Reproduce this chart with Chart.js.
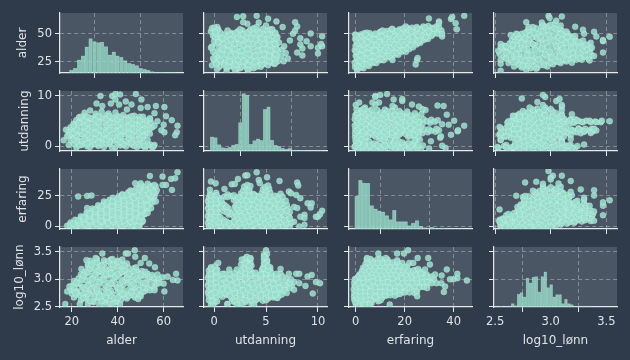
<!DOCTYPE html>
<html lang="no">
<head>
<meta charset="UTF-8">
<title>Parplott lønn</title>
<script src="https://cdn.jsdelivr.net/npm/chart.js"></script>
<style>
  html, body { margin: 0; padding: 0; background: #2f3b4b; overflow: hidden; }
  #wrap { position: relative; width: 630px; height: 360px; }
  canvas { position: absolute; }
</style>
</head>
<body>
<div id="wrap"></div>
<script>
// histogram values (bin centre / bar height)
const alderBins = [19.8,21.5,23.2,24.9,26.5,28.2,29.9,31.6,33.2,34.9,36.6,38.3,39.9,41.6,43.3,45.0,46.6,48.3,50.0,51.7,53.3,55.0,56.7,58.4,60.0,61.7,63.4,65.0];
const alderHist = [9,14,39,51,78,103,94,91,92,79,54,63,51,47,37,29,26,22,14,11,8,4,3,2,2,1,1,1];
const utdanningBins = [-0.2,0.14,0.48,0.82,1.16,1.5,1.84,2.18,2.52,2.86,3.2,3.54,3.88,4.22,4.56,4.9,5.24,5.58,5.92,6.26,6.6,6.94,7.28,7.62,7.96,8.3,8.64,8.98,9.32,9.66,10.0,10.34];
const utdanningHist = [42,40,19,10,8,11,18,21,85,171,166,20,31,36,32,124,132,32,17,14,8,5,8,3,2,2,2,1,1,1,1,1];
const erfaringBins = [0.37,1.91,3.45,4.99,6.53,8.07,9.61,11.15,12.69,14.23,15.77,17.31,18.85,20.39,21.93,23.47,25.01,26.55,28.09,29.63,31.17,32.71,34.25,35.79,37.33,38.87,40.41,41.95,43.49];
const erfaringHist = [98,145,137,136,70,60,54,51,40,28,56,22,22,22,10,18,25,8,4,3,5,2,2,2,1,1,1,1,1];
const lonnBins = [2.552,2.579,2.605,2.632,2.659,2.685,2.712,2.738,2.765,2.791,2.818,2.845,2.871,2.898,2.924,2.951,2.977,3.004,3.031,3.057,3.084,3.11,3.137,3.164,3.19,3.217,3.243,3.27,3.296,3.323,3.35];
const lonnHist = [2,0,1,1,10,4,38,43,30,86,72,89,91,45,91,105,58,67,30,37,37,10,23,10,7,3,2,1,1,1,1];

// scatter values, [x, y]. Each pair is used in both mirrored panels.
const alderUtdanning = [
  [22,-0.2],[24.4,0.3],[26.8,0],[29.2,0.4],[31.6,0.1],[34,-0.1],[36.4,0.4],[38.8,-0.2],[41.2,0.2],[43.6,0],[46,0.35],[48.4,-0.1],
  [20.8,0.5],[23.2,0.95],[25.6,0.7],[28,1.05],[30.4,0.45],[32.8,0.85],[35.2,0.6],[37.6,1],[40,0.75],[42.4,0.5],[44.8,0.9],[47.2,0.65],[49.6,1.05],
  [19.5,1.2],[22,1.55],[24.4,1.1],[26.8,1.65],[29.2,1.35],[31.6,1.15],[34,1.7],[36.4,1.45],[38.8,1.25],[41.2,1.6],[43.6,1.1],[46,1.5],[48.4,1.3],[50.8,1.65],
  [18.5,2.2],[20.8,1.8],[23.2,2.3],[25.6,2],[28,1.85],[30.4,2.25],[32.8,1.95],[35.2,2.3],[37.6,1.8],[40,2.1],[42.4,2.35],[44.8,1.9],[47.2,2.15],[49.6,1.85],[52,2.25],
  [19.5,2.5],[22,2.85],[24.4,2.45],[26.8,2.95],[29.2,2.6],[31.6,2.8],[34,2.5],[36.4,3],[38.8,2.7],[41.2,2.45],[43.6,2.9],[46,2.55],[48.4,2.95],[50.8,2.65],[53,2.75],
  [18.5,3.2],[20.8,3.6],[23.2,3.1],[25.6,3.45],[28,3.25],[30.4,3.65],[32.8,3.15],[35.2,3.5],[37.6,3.3],[40,3.6],[42.4,3.1],[44.8,3.4],[47.2,3.2],[49.6,3.55],[52,3.35],
  [19.5,3.8],[22,4.2],[24.4,3.9],[26.8,4.25],[29.2,3.75],[31.6,4.1],[34,3.85],[36.4,4.3],[38.8,4],[41.2,3.75],[43.6,4.2],[46,3.95],[48.4,4.3],[50.8,3.8],[53.5,4.1],
  [20.8,4.5],[23.2,4.85],[25.6,4.4],[28,4.75],[30.4,4.55],[32.8,4.9],[35.2,4.45],[37.6,4.7],[40,4.95],[42.4,4.5],[44.8,4.8],[47.2,4.4],[49.6,4.85],[52,4.6],
  [22,5.2],[24.4,5.55],[26.8,5.05],[29.2,5.4],[31.6,5.15],[34,5.6],[36.4,5.1],[38.8,5.45],[41.2,5.25],[43.6,5.6],[46,5.05],[48.4,5.35],[50.8,5.5],[53,5.15],
  [23.2,5.8],[25.6,6.15],[28,5.7],[30.4,6.1],[32.8,5.85],[35.2,6.2],[37.6,5.75],[40,6],[42.4,6.25],[44.8,5.8],[47.2,6.1],[49.6,5.9],
  [25.6,6.7],[28,7.1],[30.4,6.5],[33,6.9],[36,6.55],[39,6.75],
  [23.2,0.2],[28,-0.1],[32.8,0.5],[37.6,-0.3],[42.4,0.4],[47.2,0.1],[52,-0.3],[54,0.4],[55,-0.2],[56,0.3],[50,0.2],
  [22,1],[26.8,0.6],[31.6,0.7],[36.4,0.9],[41.2,0.9],[46,0.8],[51,0.6],
  [20.8,1.4],[25.6,1.5],[30.4,1.6],[35.2,1.3],[40,1.4],[44.8,1.6],[49.6,1.5],[53,1.3],
  [22,2.1],[26.8,2.3],[31.6,2.1],[36.4,2],[41.2,2],[46,2.3],[50.8,2.1],
  [20.8,2.7],[25.6,2.8],[30.4,2.55],[35.2,2.7],[40,2.85],[44.8,2.6],[49.6,2.8],[54,2.5],
  [22,3.3],[26.8,3.5],[31.6,3.4],[36.4,3.2],[41.2,3.3],[46,3.6],[50.8,3.2],[54,3.5],
  [20.8,4.1],[25.6,4],[30.4,3.9],[35.2,4.2],[40,4.2],[44.8,4],[49.6,4.2],[55,3.8],
  [23,4.6],[26.8,4.6],[31.6,4.8],[36.4,4.7],[41.2,4.8],[46,4.6],[50.8,4.4],[54.5,4.7],
  [25.6,5.3],[30.4,5.3],[35.2,5.4],[40,5.4],[44.8,5.3],[49.6,5.2],[54,5.4],
  [26.8,5.9],[31.6,5.95],[36.4,6],[41.2,5.85],[46,6],[51,5.9],[24,5.9],
  [32.5,10],[37.6,10],[39,10.4],[41,10.3],[47.9,10.4],[50.3,9.3],[39,9.3],[30.8,8.5],[33.3,8],[37,8.5],[40.6,8.3],[43.5,8.9],[44,7.3],[46,8.3],[50,7.6],[53,7.8],[56.6,8],[60.3,7.8],[56,6.6],[54,5.6],[57.3,5],[61,6],[63.5,5.2],[60,4.3],[66,4.1],[56,4.1],[59,3.2],[60.3,2.8],[65.7,2.8],[65,2.2],[55.6,0],[53,0.3],[51.5,0.1],[17.5,3.3],[16.5,1.2],[18.7,0.3],[18,2]
];
const alderErfaring = [
  [18,0.5],[20.5,-0.3],[23,1],[25.5,0.2],[28,1.4],[30.5,0],[33,0.8],[35.5,-0.4],[38,1.2],[40.5,0.4],[43,1.5],[45.5,-0.2],[48,0.7],
  [19.5,3.2],[22,2.2],[24.5,3.9],[27,2.6],[29.5,4.1],[32,3],[34.5,2],[37,3.6],[39.5,2.4],[42,4.2],[44.5,2.9],[47,3.4],[49.5,2.1],
  [21.5,5.4],[24,6.9],[26.5,5.2],[29,6.3],[31.5,7.1],[34,5.6],[36.5,6.6],[39,5],[41.5,7],[44,6],[46.5,5.3],[49,6.8],[50.5,5.7],
  [24,8.4],[26.5,9.9],[29,8.1],[31.5,9.3],[34,10],[36.5,8.6],[39,9.6],[41.5,8],[44,10.1],[46.5,9],[49,8.3],[51.5,9.8],
  [26.5,11.4],[29,12.9],[31.5,11.2],[34,12.4],[36.5,13],[39,11.6],[41.5,12.6],[44,11],[46.5,13.1],[49,12],[51,11.3],[52.5,12.8],
  [29,14.6],[31.5,15.9],[34,14.2],[36.5,15.4],[39,16],[41.5,14.5],[44,15.6],[46.5,14.1],[49,16.1],[51.5,15],[53.5,14.4],
  [31.5,17.4],[34,18.9],[36.5,17.2],[39,18.4],[41.5,19],[44,17.6],[46.5,18.6],[49,17],[51.5,19.1],[54,18],
  [34,20.5],[36.5,21.9],[39,20.2],[41.5,21.4],[44,22],[46.5,20.6],[49,21.6],[51.5,20.1],[54,22.1],[55.5,21],
  [38,23.4],[40.5,24.8],[43,23.2],[45.5,24.4],[48,25],[50.5,23.6],[53,24.6],[55.5,23],[56,24.9],
  [42,26.4],[44.5,27.8],[47,26.2],[49.5,27.4],[52,28],[54.5,26.6],[56.5,27.6],
  [45.5,29.5],[48,30.9],[50.5,29.2],[53,30.4],[55.5,31],[57,29.6],
  [51,32.6],[54,33.4],[56.5,32.9],
  [19.2,1.2],[21.7,0.6],[24.2,-0.4],[26.8,1],[29.2,0.4],[31.8,1.5],[34.2,0.2],[36.8,1.4],[39.2,-0.1],[41.8,0.9],[44.2,0.2],[46.8,1.2],[49.5,-0.2],
  [20.8,2.3],[23.2,3],[25.8,2],[28.2,3.4],[30.8,2.2],[33.2,3.8],[35.8,2.8],[38.2,4],[40.8,3.2],[43.2,2.3],[45.8,3.9],[48.2,2.7],[50.5,3.4],
  [22.8,4.8],[25.2,6],[27.8,4.7],[30.2,5.8],[32.8,4.9],[35.2,7],[37.8,5.4],[40.2,6.2],[42.8,4.8],[45.2,6.6],[47.8,5],[51,4.5],
  [25.2,7.6],[27.8,9],[30.2,7.7],[32.8,8.6],[35.2,7.9],[37.8,10.2],[40.2,8.8],[42.8,9.5],[45.2,7.8],[47.8,9.6],[50.2,8],[52,10.4],
  [27.8,10.6],[30.2,12.2],[32.8,10.9],[35.2,11.7],[37.8,12.2],[40.2,10.7],[42.8,12],[45.2,12],[47.8,10.8],[50.2,12.5],[53,11],
  [30.2,13.8],[32.8,15],[35.2,13.6],[37.8,14.8],[40.2,15.6],[42.8,14],[45.2,15],[47.8,15.4],[50.2,13.9],[52.8,15.7],[54.5,14.9],
  [33,16.8],[35.2,18.2],[37.8,16.8],[40.2,17.8],[42.8,18.6],[45.2,16.8],[47.8,18],[50.2,18.5],[52.8,17],
  [35.5,19.6],[37.8,20.8],[40.2,19.7],[42.8,21],[45.2,21.6],[47.8,19.8],[50.2,21],[52.8,21.8],[55,19.5],
  [40,22.5],[42,25.5],[44.5,23],[47,23.4],[49.5,25],[52,22.6],[54.5,25.4],
  [44,25.8],[46,28.4],[48.5,25.6],[51,28.6],[53.5,27],[55.5,28.3],
  [47,28.7],[49.5,31.5],[52,29.8],[54.5,32],[50,33.6],[53,35],
  [22.8,24.5],[26.7,25],[28.6,25.3],[47.6,35.3],[50,35.3],[54,41.3],[55.9,34],[59.5,40.8],[61,34],[63.2,38.9],[65,39.4],[66,44.3],[63.6,29.9],[59.5,34],[56.6,20.4],[49.3,4],[48.6,0],[26.7,15]
];
const alderLonn = [
  [27,2.55],[29.5,2.58],[32,2.54],[34.5,2.59],[37,2.56],[39.5,2.58],[41,2.55],
  [24,2.62],[26.5,2.64],[29,2.6],[31.5,2.65],[34,2.61],[36.5,2.64],[39,2.6],[41.5,2.63],[44,2.65],
  [21,2.67],[23.5,2.71],[26,2.68],[28.5,2.72],[31,2.67],[33.5,2.7],[36,2.72],[38.5,2.66],[41,2.7],[43.5,2.68],[46,2.72],[47.5,2.67],
  [20,2.74],[22.5,2.77],[25,2.73],[27.5,2.78],[30,2.75],[32.5,2.72],[35,2.78],[37.5,2.74],[40,2.77],[42.5,2.73],[45,2.76],[47.5,2.78],[50,2.74],
  [19.5,2.82],[22,2.79],[24.5,2.84],[27,2.81],[29.5,2.85],[32,2.8],[34.5,2.83],[37,2.79],[39.5,2.85],[42,2.82],[44.5,2.8],[47,2.84],[49.5,2.81],[52,2.79],[53,2.84],
  [20,2.88],[22.5,2.91],[25,2.86],[27.5,2.9],[30,2.87],[32.5,2.92],[35,2.88],[37.5,2.91],[40,2.86],[42.5,2.9],[45,2.92],[47.5,2.87],[50,2.89],[52.5,2.91],[55,2.87],
  [21,2.97],[23.5,2.94],[26,2.98],[28.5,2.93],[31,2.96],[33.5,2.99],[36,2.94],[38.5,2.97],[41,2.93],[43.5,2.98],[46,2.95],[48.5,2.99],[51,2.94],[53.5,2.97],[56,2.95],[57,2.98],
  [23,3.02],[25.5,3.05],[28,3],[30.5,3.04],[33,3.01],[35.5,3.06],[38,3.02],[40.5,3.05],[43,3],[45.5,3.04],[48,3.02],[50.5,3.06],[53,3.01],[55.5,3.03],
  [24,3.09],[26.5,3.11],[29,3.07],[31.5,3.12],[34,3.08],[36.5,3.1],[39,3.07],[41.5,3.12],[44,3.09],[46.5,3.07],[49,3.11],[51.5,3.08],[53,3.1],
  [25.5,3.14],[28,3.18],[30.5,3.15],[33,3.13],[35.5,3.17],[38,3.14],[40.5,3.18],[43,3.15],[45.5,3.13],[48,3.17],[50.5,3.15],
  [27,3.23],[29.5,3.2],[32,3.24],[34.5,3.21],[37,3.19],[39.5,3.24],[42,3.2],[44.5,3.22],[47,3.2],
  [27,3.28],[29.5,3.3],[32,3.27],[34.5,3.31],[37,3.28],[39.5,3.3],[42,3.27],[44,3.29],
  [28,3.34],[31,3.37],[34,3.35],[37,3.36],[40,3.34],[42,3.36],
  [28,2.6],[33,2.6],[38,2.55],[25,2.66],[30,2.69],[35,2.66],[40,2.66],[45,2.7],
  [22,2.72],[27,2.74],[32,2.69],[37,2.7],[42,2.74],[47,2.71],[49.5,2.7],
  [21,2.79],[26,2.77],[31,2.79],[36,2.76],[41,2.8],[46,2.77],[51,2.77],[54,2.8],
  [21,2.85],[26,2.83],[31,2.83],[36,2.86],[41,2.84],[46,2.88],[51,2.85],[56,2.84],
  [22,2.94],[27,2.89],[32,2.95],[37,2.92],[42,2.96],[47,2.91],[52,2.93],[57,2.92],
  [24.5,3],[29,3.01],[34,2.99],[39,3.05],[44,3.03],[49,2.98],[54,3.05],[58,3],
  [25,3.07],[30,3.08],[35,3.1],[40,3.09],[45,3.1],[50,3.09],[55,3.08],
  [27,3.14],[32,3.16],[37,3.11],[42,3.14],[47,3.15],[52,3.14],
  [28,3.2],[33,3.2],[38,3.22],[43,3.18],[48,3.22],
  [28.5,3.26],[33,3.25],[38,3.26],[43,3.25],[31,3.31],[36,3.33],[40.5,3.32],
  [47.4,3.53],[33.3,3.47],[43.5,3.47],[44.5,3.47],[47.6,3.41],[51.8,3.39],[50,3.3],[53.7,3.29],[56.2,3.22],[37.7,3.37],[30.4,3.39],[26.4,3.35],[24.2,3.19],[17.2,2.55],[23.5,2.55],[21.6,2.75],[18,2.78],[19,2.87],[57.3,3.09],[59.5,3.04],[61.7,3.05],[65.4,3.1],[66,2.98],[64,2.99],[60.3,2.78],[56,2.8],[58,2.93],[60,2.92],[50,2.69],[48.9,2.64],[34.7,2.53]
];
const utdanningErfaring = [
  [-0.5,0.5],[-0.1,-0.5],[0.4,1.1],[0.9,0.1],[1.4,1.4],[1.9,-0.3],[2.4,0.7],[2.9,1.3],[3.4,-0.2],[3.9,0.9],[4.4,0.3],[4.9,1.4],[5.4,-0.4],[5.9,0.8],[6.4,0.2],[6.9,1.2],
  [-0.6,3.1],[-0.2,2.2],[0.2,3.8],[0.7,2.6],[1.2,4],[1.7,3],[2.2,2.1],[2.7,3.6],[3.2,2.5],[3.7,4.1],[4.2,2.9],[4.7,3.4],[5.2,2.1],[5.7,3.9],[6.2,2.7],[6.7,3.3],[7.2,2.3],[7.7,3.8],
  [-0.5,6.1],[-0.1,5.2],[0.4,6.8],[0.9,5.5],[2,5.1],[2.5,6.6],[3,5.6],[3.5,7],[4,5.3],[4.5,6.3],[5,5.9],[5.5,7.1],[6,5.2],[6.5,6.6],[7,5.7],
  [-0.6,8.3],[-0.1,9.8],[0.35,8.6],[1.4,9.6],[1.9,8.1],[2.4,9.3],[2.9,10],[3.4,8.4],[3.9,9.4],[4.4,8.2],[4.9,10.1],[5.4,9],[5.9,8.5],[6.4,9.7],[7.2,8.8],
  [-0.5,11.5],[0,12.8],[0.45,11.2],[1,12.3],[1.5,11.8],[2.2,13],[2.7,11.4],[3.2,12.4],[3.7,11],[4.2,12.9],[4.7,11.7],[5.2,12.2],[5.7,13.1],[6.2,11.3],[6.7,12.6],[7.3,11.9],
  [-0.6,14.8],[-0.1,15.9],[0.4,14.2],[0.9,15.4],[1.4,14.6],[2,16],[2.5,14.4],[3,15.6],[3.5,14.1],[4,15],[4.5,16.1],[5,14.7],[5.5,15.3],[6,14.3],[6.5,15.8],[7.1,14.9],
  [-0.5,18],[0,17.2],[0.5,18.8],[1,17.6],[2.1,17.1],[2.6,18.4],[3.1,19],[3.6,17.5],[4.1,18.6],[4.6,17.2],[5.1,19.1],[5.6,18.1],[6.1,17.4],[6.6,18.7],
  [-0.6,20.8],[-0.1,21.8],[0.4,20.3],[1.9,21.4],[2.4,20.5],[2.9,21.9],[3.4,20.2],[3.9,21.2],[4.4,22],[4.9,20.6],[5.4,21.6],[5.9,20.1],[6.4,21.1],
  [-0.5,23.5],[0,24.8],[0.5,23.1],[1,24.4],[1.6,25],[2.1,23.4],[2.6,24.6],[3.1,23],[3.6,24.2],[4.1,25.1],[4.6,23.6],[5.1,24.7],[5.6,23.3],[6.1,24.5],
  [-0.4,26.6],[0.2,27.5],[1.3,26.2],[2.6,27.2],[3,26],[3.4,27.8],[3.8,26.5],[4.6,27.4],[5,26.1],[5.4,27.7],[6.4,26.8],
  [2.8,29.4],[3.1,30.8],[3.4,29.8],[4.7,30.4],[5,29.2],[5.3,30.9],
  [2.9,32.6],[3.2,34],[3.5,33],[4.9,32.3],[5.2,33.5],
  [-0.3,1.3],[0.15,-0.2],[0.65,0.9],[1.15,-0.1],[1.65,0.6],[2.15,1.5],[2.65,-0.3],[3.15,0.5],[3.65,1.2],[4.15,-0.4],[4.65,0.8],[5.15,0.4],[5.65,1.4],[6.15,-0.2],[6.65,0.6],[7.3,0.3],
  [-0.35,4.4],[0,2.9],[0.45,3.4],[1,3.4],[1.45,2.4],[1.95,3.9],[2.45,2.8],[2.95,3.2],[3.45,4.3],[3.95,2.4],[4.45,3.9],[4.95,2.6],[5.45,3.2],[5.95,2.9],[6.45,4],[6.95,2.8],[7.45,3.2],
  [-0.3,7.3],[0.15,5.8],[0.6,7.5],[2.25,7.2],[2.75,6.2],[3.25,7.6],[3.75,6],[4.25,7.4],[4.75,6.7],[5.25,5.4],[5.75,6.1],[6.25,7.2],[6.75,5.4],[7.3,6.6],
  [-0.3,10.2],[0.15,9],[1.6,10.4],[2.15,9.7],[2.65,8.6],[3.15,9.1],[3.65,10.3],[4.15,8.8],[4.65,9.7],[5.15,8.4],[5.65,9.8],[6.15,8.9],[6.7,10.4],
  [-0.3,12],[0.2,11.9],[1.25,11.6],[2,12],[2.45,12.8],[2.95,11.9],[3.45,13],[3.95,12],[4.45,11.4],[4.95,12.6],[5.45,11.5],[5.95,12.4],[6.45,12],[7,13],
  [-0.3,16],[0.15,14.8],[0.65,15.8],[1.2,16.2],[2.25,15],[2.75,14.9],[3.25,16.4],[3.75,14.8],[4.25,16],[4.75,15.4],[5.25,16],[5.75,14.6],[6.25,16.2],
  [-0.3,18.6],[0.2,19.4],[0.8,19],[2.35,17.8],[2.85,18.1],[3.35,18.6],[3.85,17.9],[4.35,19.2],[4.85,18.2],[5.35,17.2],[5.85,18.9],[6.35,18],[7,17.8],
  [-0.3,22],[0.15,22.4],[0.7,21.6],[2.15,22],[2.65,21.9],[3.15,21.2],[3.65,22.4],[4.15,20.4],[4.65,22.3],[5.15,22],[5.65,21],[6.15,22.6],[6.9,21],
  [-0.3,25.2],[0.25,25.5],[1.3,24],[1.9,25.6],[2.35,24],[2.85,25.4],[3.35,24.8],[3.85,25.4],[4.35,24],[4.85,25.6],[5.35,24.5],[5.85,25.2],[6.6,24.2],
  [4.1,44.3],[3,41.6],[3.2,41.8],[2.3,38.9],[1.7,34.5],[2,34.8],[1,30.7],[-0.3,36.7],[0.15,35.3],[-0.4,30],[4.3,38],[4.4,35.3],[5.1,40.2],[6.3,37.2],[8,35.9],[8.1,33.4],[7.2,28.5],[7.4,27.2],[7.9,25.8],[8.3,23],[9,19],[9.4,19],[9.3,15.5],[10,8],[10.4,12.8],[10.2,10],[9.8,8],[8.7,9.5],[8.3,8],[8.7,6.8],[8.2,0],[8.7,1.4],[7.7,16],[8,15]
];
const utdanningLonn = [
  [-0.3,2.53],[0.1,2.58],[1.3,2.55],[1.9,2.59],[2.4,2.54],[3,2.58],[3.6,2.55],
  [-0.5,2.62],[-0.1,2.65],[0.3,2.6],[1.7,2.64],[2.2,2.61],[2.7,2.65],[3.2,2.62],[3.7,2.6],[4.2,2.64],[4.7,2.61],[5.2,2.65],
  [-0.5,2.7],[-0.1,2.67],[0.3,2.71],[0.8,2.68],[1.2,2.72],[1.7,2.67],[2.2,2.7],[2.7,2.72],[3.2,2.67],[3.7,2.71],[4.2,2.68],[4.7,2.72],[5.2,2.69],[5.7,2.67],[6.2,2.7],
  [-0.6,2.76],[-0.2,2.78],[0.2,2.74],[0.7,2.77],[1.2,2.73],[1.7,2.78],[2.2,2.75],[2.7,2.73],[3.2,2.78],[3.7,2.75],[4.2,2.77],[4.7,2.74],[5.2,2.78],[5.7,2.75],[6.2,2.73],[6.7,2.77],
  [-0.5,2.81],[0,2.84],[0.5,2.8],[1,2.85],[1.5,2.82],[2,2.79],[2.5,2.84],[3,2.81],[3.5,2.85],[4,2.8],[4.5,2.83],[5,2.85],[5.5,2.8],[6,2.83],[6.5,2.81],[7,2.85],
  [-0.6,2.89],[-0.1,2.91],[0.4,2.87],[0.9,2.9],[1.4,2.86],[1.9,2.91],[2.4,2.88],[2.9,2.92],[3.4,2.87],[3.9,2.9],[4.4,2.86],[4.9,2.91],[5.4,2.88],[5.9,2.92],[6.4,2.87],[6.9,2.9],[7.5,2.88],
  [-0.5,2.95],[0,2.98],[0.5,2.94],[1,2.97],[1.5,2.93],[2,2.98],[2.5,2.95],[3,2.99],[3.5,2.94],[4,2.97],[4.5,2.93],[5,2.98],[5.5,2.95],[6,2.99],[6.5,2.94],[7.1,2.97],[7.7,2.95],
  [-0.6,3.03],[-0.1,3.01],[0.4,3.05],[1.2,3.02],[1.7,3.06],[2.2,3],[2.7,3.04],[3.2,3.01],[3.7,3.05],[4.2,3],[4.7,3.03],[5.2,3.06],[5.7,3.01],[6.2,3.04],[6.9,3.02],
  [-0.5,3.08],[0,3.11],[0.5,3.07],[1.5,3.1],[2.2,3.08],[2.7,3.12],[3.2,3.07],[3.7,3.1],[4.2,3.08],[4.7,3.12],[5.2,3.09],[5.7,3.07],[6.4,3.1],
  [-0.5,3.16],[-0.1,3.14],[0.3,3.18],[2.8,3.15],[3.2,3.18],[3.6,3.14],[4.6,3.17],[5,3.14],[5.4,3.18],
  [-0.3,3.22],[0.1,3.24],[2.8,3.23],[3.2,3.2],[3.6,3.25],[4.7,3.21],[5,3.25],[5.4,3.22],
  [2.9,3.3],[3.2,3.28],[3.5,3.31],[4.8,3.29],[5.1,3.32],
  [2.9,3.36],[3.2,3.35],[3.5,3.37],[4.8,3.36],[5.1,3.35],[4.8,3.45],[5.1,3.46],
  [-0.2,2.6],[0.2,2.68],[2,2.6],[2.5,2.67],[3,2.62],[3.5,2.67],[4,2.62],[4.5,2.68],[5,2.62],[5.5,2.69],[6,2.67],
  [-0.3,2.72],[0.1,2.76],[0.6,2.72],[1,2.76],[1.5,2.7],[2,2.75],[2.5,2.72],[3,2.76],[3.5,2.7],[4,2.76],[4.5,2.72],[5,2.76],[5.5,2.72],[6,2.77],[6.5,2.72],
  [-0.3,2.84],[0.3,2.85],[0.8,2.82],[1.3,2.8],[1.8,2.84],[2.3,2.85],[2.8,2.8],[3.3,2.83],[3.8,2.85],[4.3,2.81],[4.8,2.83],[5.3,2.85],[5.8,2.82],[6.3,2.84],[6.8,2.8],[7.3,2.84],
  [-0.3,2.93],[0.2,2.95],[0.7,2.92],[1.2,2.94],[1.7,2.89],[2.2,2.95],[2.7,2.9],[3.2,2.95],[3.7,2.92],[4.2,2.95],[4.7,2.89],[5.2,2.94],[5.7,2.92],[6.2,2.95],[6.7,2.9],[7.3,2.94],
  [-0.3,3.01],[0.2,3.03],[0.9,3.02],[1.5,3],[2,3.03],[2.5,3.05],[3,3.01],[3.5,3.06],[4,3.02],[4.5,3.06],[5,3.01],[5.5,3.04],[6,3.02],[6.6,3.05],[7.4,3],
  [-0.3,3.1],[0.2,3.13],[1,3.1],[2,3.12],[2.5,3.09],[3,3.12],[3.5,3.1],[4,3.12],[4.5,3.09],[5,3.11],[5.5,3.12],[6,3.1],
  [-0.3,3.19],[0.2,3.16],[2.6,3.16],[3,3.2],[3.4,3.18],[4.8,3.2],[5.2,3.17],
  [2.6,3.27],[3,3.3],[3.4,3.25],[4.9,3.28],[5.2,3.24],[3,3.38],[4.95,3.4],
  [5,3.53],[4.8,3.41],[0.4,3.3],[3.15,3.41],[2.66,3.36],[3.5,3.39],[2.2,3.18],[1.46,3.18],[0.8,3.1],[6.4,3.19],[7.2,3.1],[7.9,3.1],[8.2,3.1],[9,3.05],[9.4,3.08],[9.8,2.95],[10.2,2.93],[8.8,2.88],[9.5,2.74],[8.2,2.93],[7.7,2.81],[7,2.75],[6.1,2.66],[5.9,2.72],[1.27,2.55],[2.2,2.54],[2.66,2.55],[3.86,2.54],[-0.1,2.52]
];
const erfaringLonn = [
  [0,2.55],[2,2.58],[4.5,2.54],[6.5,2.57],
  [-0.6,2.63],[1.2,2.6],[3.2,2.65],[5.2,2.61],[7.2,2.64],[9.2,2.6],
  [-0.7,2.69],[0.9,2.71],[2.9,2.67],[4.9,2.72],[6.9,2.68],[8.9,2.71],[10.9,2.67],[12.4,2.7],
  [-0.6,2.75],[1,2.77],[3,2.73],[5,2.78],[7,2.75],[9,2.73],[11,2.77],[13,2.74],[15,2.78],[17,2.73],[19,2.76],[24,2.75],
  [-0.8,2.82],[0.8,2.84],[2.8,2.8],[4.8,2.85],[6.8,2.81],[8.8,2.84],[10.8,2.79],[12.8,2.83],[14.8,2.85],[16.8,2.8],[18.8,2.83],[20.8,2.81],[22.8,2.85],[24.8,2.8],
  [-0.5,2.89],[1.2,2.86],[3.2,2.9],[5.2,2.87],[7.2,2.91],[9.2,2.86],[11.2,2.89],[13.2,2.92],[15.2,2.87],[17.2,2.9],[19.2,2.86],[21.2,2.91],[23.2,2.88],[25.2,2.92],[27.2,2.87],[29,2.9],
  [-0.6,2.94],[0.5,2.97],[2.2,2.93],[4.2,2.98],[6.2,2.95],[8.2,2.93],[10.2,2.97],[12.2,2.94],[14.2,2.98],[16.2,2.95],[18.2,2.93],[20.2,2.97],[22.2,2.94],[24.2,2.98],[26.2,2.95],[28.2,2.93],[30.2,2.97],
  [0,3.01],[2,3.03],[4,3],[6,3.04],[8,3.01],[10,3.05],[12,3],[14,3.03],[16,3.05],[18,3.01],[20,3.04],[22,3],[24,3.03],[26,3.05],[28,3.01],[30,3.03],[32,3],
  [1.5,3.09],[3.5,3.07],[5.5,3.1],[7.5,3.08],[9.5,3.12],[11.5,3.07],[13.5,3.1],[15.5,3.12],[17.5,3.08],[19.5,3.11],[21.5,3.07],[23.5,3.1],[25.5,3.08],[27.5,3.11],[29,3.09],
  [2.5,3.15],[4.5,3.18],[6.5,3.14],[8.5,3.17],[10.5,3.13],[12.5,3.18],[14.5,3.15],[16.5,3.14],[18.5,3.18],[20.5,3.15],[22.5,3.13],[24.5,3.17],[26,3.15],
  [3,3.21],[5,3.24],[7,3.2],[9,3.23],[11,3.21],[13,3.25],[15,3.2],[17,3.23],[19,3.21],[21,3.24],
  [4,3.28],[6,3.3],[8,3.27],[10,3.31],[12,3.28],[14,3.3],[16.5,3.27],[19,3.3],
  [4.5,3.36],[7,3.34],[9,3.37],[11,3.35],[13,3.36],
  [1,2.55],[3,2.56],[5.5,2.57],[-0.2,2.59],[0.5,2.66],[2.2,2.63],[4.2,2.63],[6.2,2.62],[8.2,2.65],[10.2,2.62],
  [0,2.71],[2,2.69],[4,2.7],[6,2.72],[8,2.68],[10,2.72],[12,2.72],[14,2.71],[16,2.7],[18,2.73],
  [0,2.8],[2,2.78],[4,2.79],[6,2.78],[8,2.8],[10,2.77],[12,2.79],[14,2.76],[16,2.78],[18,2.8],[20,2.76],[22,2.76],[25,2.77],
  [0,2.87],[2,2.86],[4,2.85],[6,2.89],[8,2.86],[10,2.87],[12,2.86],[14,2.85],[16,2.88],[18,2.85],[20,2.88],[22,2.84],[24,2.88],[26,2.85],[28,2.86],
  [1.2,2.93],[3.2,2.95],[5.2,2.92],[7.2,2.96],[9.2,2.94],[11.2,2.96],[13.2,2.95],[15.2,2.93],[17.2,2.96],[19.2,2.94],[21.2,2.96],[23.2,2.93],[25.2,2.96],[27.2,2.95],[29.2,2.95],[31,2.93],
  [1,3.05],[3,3.03],[5,3.05],[7,3.06],[9,3.03],[11,3.02],[13,3.05],[15,3.02],[17,3.06],[19,3.02],[21,3.03],[23,3.06],[25,3.02],[27,3.04],[29,3.05],[31,3.05],
  [2.5,3.1],[4.5,3.11],[6.5,3.12],[8.5,3.1],[10.5,3.09],[12.5,3.11],[14.5,3.1],[16.5,3.09],[18.5,3.12],[20.5,3.09],[22.5,3.12],[24.5,3.09],[26.5,3.11],
  [3.5,3.17],[5.5,3.16],[7.5,3.18],[9.5,3.16],[11.5,3.16],[13.5,3.17],[15.5,3.17],[17.5,3.16],[19.5,3.16],[21.5,3.16],[23.5,3.16],[25.5,3.19],
  [4,3.22],[6,3.25],[8,3.23],[10,3.25],[12,3.23],[14,3.23],[16,3.24],[18,3.24],[20,3.22],[5,3.31],[7,3.3],[9,3.3],[11,3.3],[13,3.31],[15,3.31],[17,3.32],[6,3.37],[10,3.38],
  [21.4,3.53],[16.9,3.47],[19.7,3.47],[9.2,3.47],[12.3,3.39],[16.9,3.35],[4.6,3.39],[21.9,3.3],[23.5,3.3],[25.3,3.39],[29.6,3.39],[30.3,3.27],[28.3,3.18],[32.4,3.09],[37.2,3.18],[35.1,3.07],[41.5,3.1],[41.5,3.02],[45.4,2.98],[39.9,3],[38.5,3],[36.5,2.87],[36,2.77],[33,2.93],[35,2.93],[29.2,2.84],[25.1,2.69],[13.9,2.54],[5.5,2.54],[3.7,2.54],[-0.4,3]
];

const names = ['alder', 'utdanning', 'erfaring', 'log10_lønn'];
const limits = [[14.9, 68.4], [-0.97, 10.87], [-2.75, 47.5], [2.49, 3.596]];
const yLimits = [[15.2, 68.5], [-0.91, 10.99], [-2.1, 47], [2.495, 3.59]];
const xTicks = [[20, 40, 60], [0, 5, 10], [0, 20, 40], [2.5, 3.0, 3.5]];
const yTicks = [[25, 50], [0, 10], [0, 25], [2.5, 3.0, 3.5]];
const xTickText = [['20', '40', '60'], ['0', '5', '10'], ['0', '20', '40'], ['2.5', '3.0', '3.5']];
const yTickText = [['25', '50'], ['0', '10'], ['0', '25'], ['2.5', '3.0', '3.5']];
const hists = [[alderBins, alderHist], [utdanningBins, utdanningHist], [erfaringBins, erfaringHist], [lonnBins, lonnHist]];
const pairs = { '0,1': alderUtdanning, '0,2': alderErfaring, '0,3': alderLonn, '1,2': utdanningErfaring, '1,3': utdanningLonn, '2,3': erfaringLonn };

const colLeft = [60, 204, 349, 494];
const rowTop = [13, 91, 169, 247];
const panelW = 123, panelH = 60;
const titlePad = [16, 18, 16, 13];
const textColor = '#dfe3e6';

const panelBg = {
  id: 'panelBg',
  beforeDraw(chart) {
    const a = chart.chartArea;
    chart.ctx.fillStyle = '#4b5664';
    chart.ctx.fillRect(a.left, a.top, a.right - a.left, a.bottom - a.top);
  }
};

function axis(values, texts, lim, showText, size, title, pad, position) {
  return {
    type: 'linear',
    position: position,
    min: lim[0],
    max: lim[1],
    offset: false,
    afterBuildTicks(s) { s.ticks = values.map(v => ({ value: v })); },
    afterFit(s) {
      if (position === 'left') s.width = size; else s.height = size;
      // tick labels must not push the panel edge in
      s.paddingTop = s.paddingBottom = s.paddingLeft = s.paddingRight = 0;
    },
    grid: {
      color: 'rgba(255,255,255,0.32)', lineWidth: 1,
      tickColor: '#e6e8ea', tickBorderDash: [], tickLength: 5, tickWidth: 1
    },
    border: { display: true, color: '#e6e8ea', width: 1.2, dash: [4, 3] },
    ticks: {
      autoSkip: false, maxRotation: 0, minRotation: 0, padding: 3,
      color: textColor, font: { family: 'DejaVu Sans', size: 11.5 },
      callback(v) { const i = values.indexOf(v); return showText ? texts[i] : ''; }
    },
    title: {
      display: !!title, text: title, color: textColor,
      font: { family: 'DejaVu Sans', size: 12 }, padding: pad
    }
  };
}

const wrap = document.getElementById('wrap');
for (let r = 0; r < 4; r++) {
  for (let c = 0; c < 4; c++) {
    const ml = c === 0 ? 60 : 10, mb = r === 3 ? 53 : 8;
    const cv = document.createElement('canvas');
    cv.width = ml + panelW + 2;
    cv.height = 2 + panelH + mb;
    cv.style.left = (colLeft[c] - ml) + 'px';
    cv.style.top = (rowTop[r] - 2) + 'px';
    wrap.appendChild(cv);

    const scales = {
      x: axis(xTicks[c], xTickText[c], limits[c], r === 3, mb, r === 3 ? names[c] : '', { top: 0, bottom: 12 }, 'bottom'),
      y: axis(yTicks[r], yTickText[r], yLimits[r], c === 0, ml, c === 0 ? names[r] : '', { top: titlePad[r], bottom: 0 }, 'left')
    };
    let type, datasets;
    if (r === c) {
      type = 'bar';
      scales.h = { display: false, min: 0, max: 179 };
      datasets = [{
        data: hists[c][0].map((b, i) => ({ x: b, y: hists[c][1][i] })),
        yAxisID: 'h', barPercentage: 1, categoryPercentage: 1,
        backgroundColor: 'rgba(142,218,198,0.82)',
        borderColor: 'rgba(255,255,255,0.4)', borderWidth: 0.5
      }];
    } else {
      type = 'scatter';
      const a = Math.min(r, c), b = Math.max(r, c);
      const list = pairs[a + ',' + b];
      datasets = [{
        data: list.map(p => (c < r ? { x: p[0], y: p[1] } : { x: p[1], y: p[0] })),
        pointRadius: 3, pointHoverRadius: 3,
        backgroundColor: 'rgba(148,222,203,0.88)',
        borderColor: 'rgba(255,255,255,0.42)', borderWidth: 0.6
      }];
    }
    new Chart(cv.getContext('2d'), {
      type: type,
      data: { datasets: datasets },
      plugins: [panelBg],
      options: {
        responsive: false,
        animation: false,
        layout: { autoPadding: false, padding: { top: 2, right: 2, left: 0, bottom: 0 } },
        plugins: { legend: { display: false }, tooltip: { enabled: false } },
        scales: scales
      }
    });
  }
}
</script>
</body>
</html>
